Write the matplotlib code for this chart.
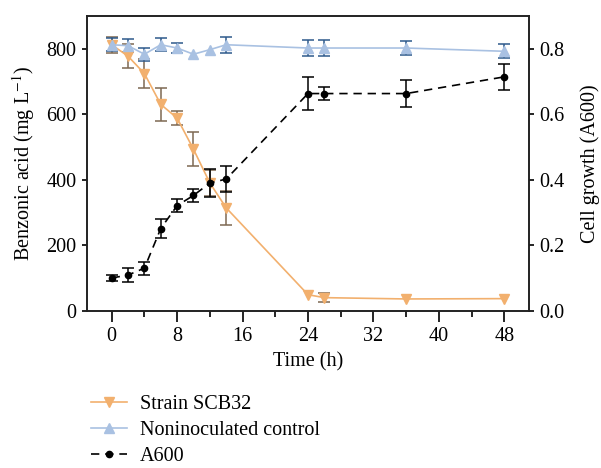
import numpy as np
import matplotlib
matplotlib.use("Agg")
import matplotlib.pyplot as plt

plt.rcParams['font.family'] = ['Liberation Serif', 'DejaVu Serif']
plt.rcParams['mathtext.fontset'] = 'stix'
plt.rcParams['font.size'] = 14.5

# benzoic acid, strain SCB32
t_strain = [0, 2, 4, 6, 8, 10, 12, 14, 24, 26, 36, 48]
ba_strain = [812, 777, 724, 630, 588, 493, 390, 314, 49, 40, 36, 37]
ba_strain_err = [24, 36, 43, 50, 21, 52, 40, 51, 0, 14, 0, 0]

# benzoic acid, noninoculated control
t_ctrl = [0, 2, 4, 6, 8, 10, 12, 14, 24, 26, 36, 48]
ba_ctrl = [812, 809, 783, 812, 802, 783, 797, 812, 802, 802, 802, 792]
ba_ctrl_err = [20, 20, 20, 20, 16, 0, 0, 24, 25, 25, 22, 21]

# cell growth
t_a600 = [0, 2, 4, 6, 8, 10, 12, 14, 24, 26, 36, 48]
a600 = [0.10, 0.109, 0.13, 0.251, 0.321, 0.352, 0.39, 0.402, 0.663, 0.663, 0.663, 0.714]
a600_err = [0.01, 0.02, 0.02, 0.03, 0.02, 0.019, 0.042, 0.039, 0.05, 0.02, 0.04, 0.04]

orange = '#F2B06E'
orange_err = '#7D6852'
blue = '#A9C1E2'
blue_err = '#2E5A8C'

fig = plt.figure(figsize=(6.01, 4.68), dpi=100)
ax = fig.add_axes([0.145, 0.336, 0.735, 0.630])
ax2 = ax.twinx()


def draw_err(a, x, y, e, color):
    x, y, e = np.array(x), np.array(y), np.array(e)
    m = e > 0
    a.errorbar(x[m], y[m], yerr=e[m], fmt='none', ecolor=color,
               elinewidth=1.1, capsize=4.5, capthick=1.1, zorder=2)


draw_err(ax, t_strain, ba_strain, ba_strain_err, orange_err)
draw_err(ax, t_ctrl, ba_ctrl, ba_ctrl_err, blue_err)
l1, = ax.plot(t_strain, ba_strain, '-', marker='v', color=orange, lw=1.2,
              ms=7.5, label='Strain SCB32', zorder=3)
l2, = ax.plot(t_ctrl, ba_ctrl, '-', marker='^', color=blue, lw=1.2,
              ms=7.5, label='Noninoculated control', zorder=3)

draw_err(ax2, t_a600, a600, a600_err, 'black')
l3, = ax2.plot(t_a600, a600, '--', marker='o', color='black', lw=1.2,
               ms=4.5, dashes=(5, 3.5), label='A600', zorder=3)

ax.set_xlim(-3, 51)
ax.set_ylim(0, 900)
ax2.set_ylim(0, 0.9)
ax.set_xticks(range(0, 49, 8))
ax.set_xticks(range(0, 49, 4), minor=True)
ax.set_yticks(range(0, 801, 200))
ax2.set_yticks([0.0, 0.2, 0.4, 0.6, 0.8])
ax2.set_yticklabels(['0.0', '0.2', '0.4', '0.6', '0.8'])

ax.tick_params(axis='x', which='major', length=8, width=1.2, pad=4)
ax.tick_params(axis='x', which='minor', length=4, width=1.2)
ax.tick_params(axis='y', length=3.5, width=1.2, pad=4)
ax2.tick_params(axis='y', length=3.5, width=1.2, pad=4)
for a in (ax, ax2):
    for s in a.spines.values():
        s.set_linewidth(1.2)
        s.set_color('#222222')

ax.set_xlabel('Time (h)', labelpad=4)
ax.set_ylabel('Benzonic acid (mg L$^{-1}$)', labelpad=7)
ax2.set_ylabel('Cell growth (A600)', labelpad=11)

fig.legend(handles=[l1, l2, l3], loc='upper left',
           bbox_to_anchor=(0.135, 0.178), frameon=False,
           handlelength=1.8, handletextpad=0.6, labelspacing=0.34,
           borderpad=0, fontsize=14.5)

fig.savefig('out.png', dpi=100)
